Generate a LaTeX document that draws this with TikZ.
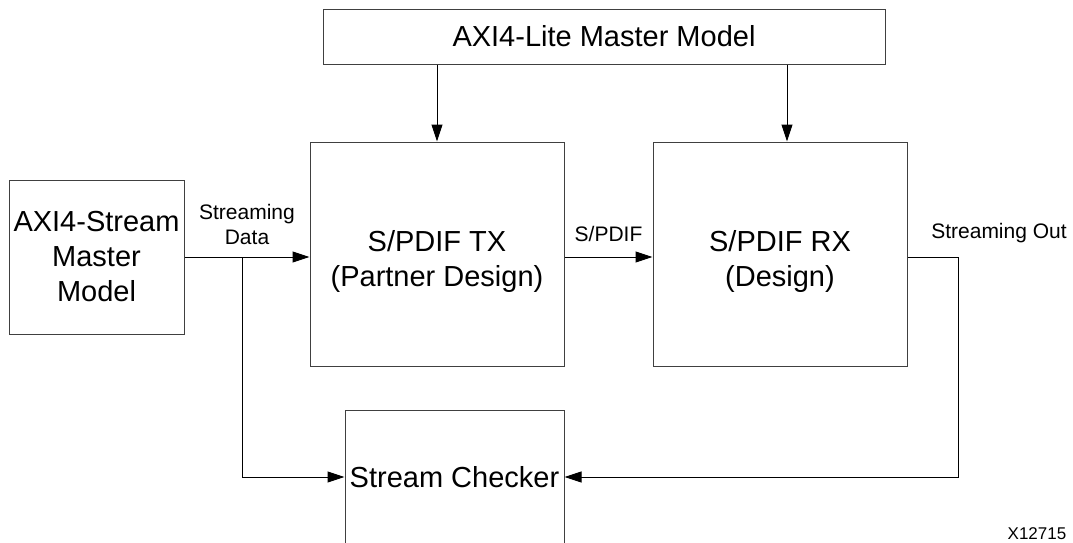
\documentclass[tikz,border=0pt]{standalone}
\usepackage{fontspec}
\setmainfont{Liberation Sans}
\usetikzlibrary{shapes,arrows.meta}

\begin{document}
\begin{tikzpicture}[x=1pt,y=-1pt,
  blk/.style={draw=black!75,line width=1pt,align=center,inner sep=0pt,font=\fontsize{29}{35}\selectfont},
  blktext/.style={align=center,inner sep=0pt,font=\fontsize{29}{35}\selectfont,yshift=-7pt},
  lbl/.style={font=\fontsize{21}{25}\selectfont,align=center,inner sep=2pt},
  arr/.style={-{Triangle[length=17pt,width=11pt]},line width=1pt}]
\useasboundingbox (0,0) rectangle (1073,542);
\node[blk,minimum width=562,minimum height=55] (lite) at (604,36.5) {AXI4-Lite Master Model};
\node[blk,minimum width=175,minimum height=154] (master) at (96.5,257) {AXI4-Stream\\Master\\Model};
\node[blk,minimum width=254,minimum height=224,label={[blktext]center:S/PDIF TX\\(Partner Design)}] (tx) at (437,254) {};
\node[blk,minimum width=254,minimum height=224,label={[blktext]center:S/PDIF RX\\(Design)}] (rx) at (780,254) {};
\node[blk,minimum width=219,minimum height=134] (chk) at (454.5,477) {Stream Checker};
\coordinate (br) at (242,257);
\coordinate (turn) at (958,257);
\draw[arr] (lite.south -| tx.north) -- (tx.north);
\draw[arr] ([xshift=7]lite.south -| rx.north) -- ([xshift=7]rx.north);
\draw[arr] (master.east) -- node[lbl,midway,above=10pt] {Streaming\\Data} (master.east -| tx.west);
\draw[arr] (br) |- (chk.west);
\draw[arr] (master.east -| tx.east) -- node[lbl,midway,above=13pt] {S/PDIF} (master.east -| rx.west);
\draw[arr] (turn -| rx.east) -- (turn) |- (chk.east);
\node[lbl] (outlbl) at (999,233) {Streaming Out};
\node[font=\fontsize{17}{20}\selectfont] (fig) at (1037,534) {X12715};
\end{tikzpicture}
\end{document}
